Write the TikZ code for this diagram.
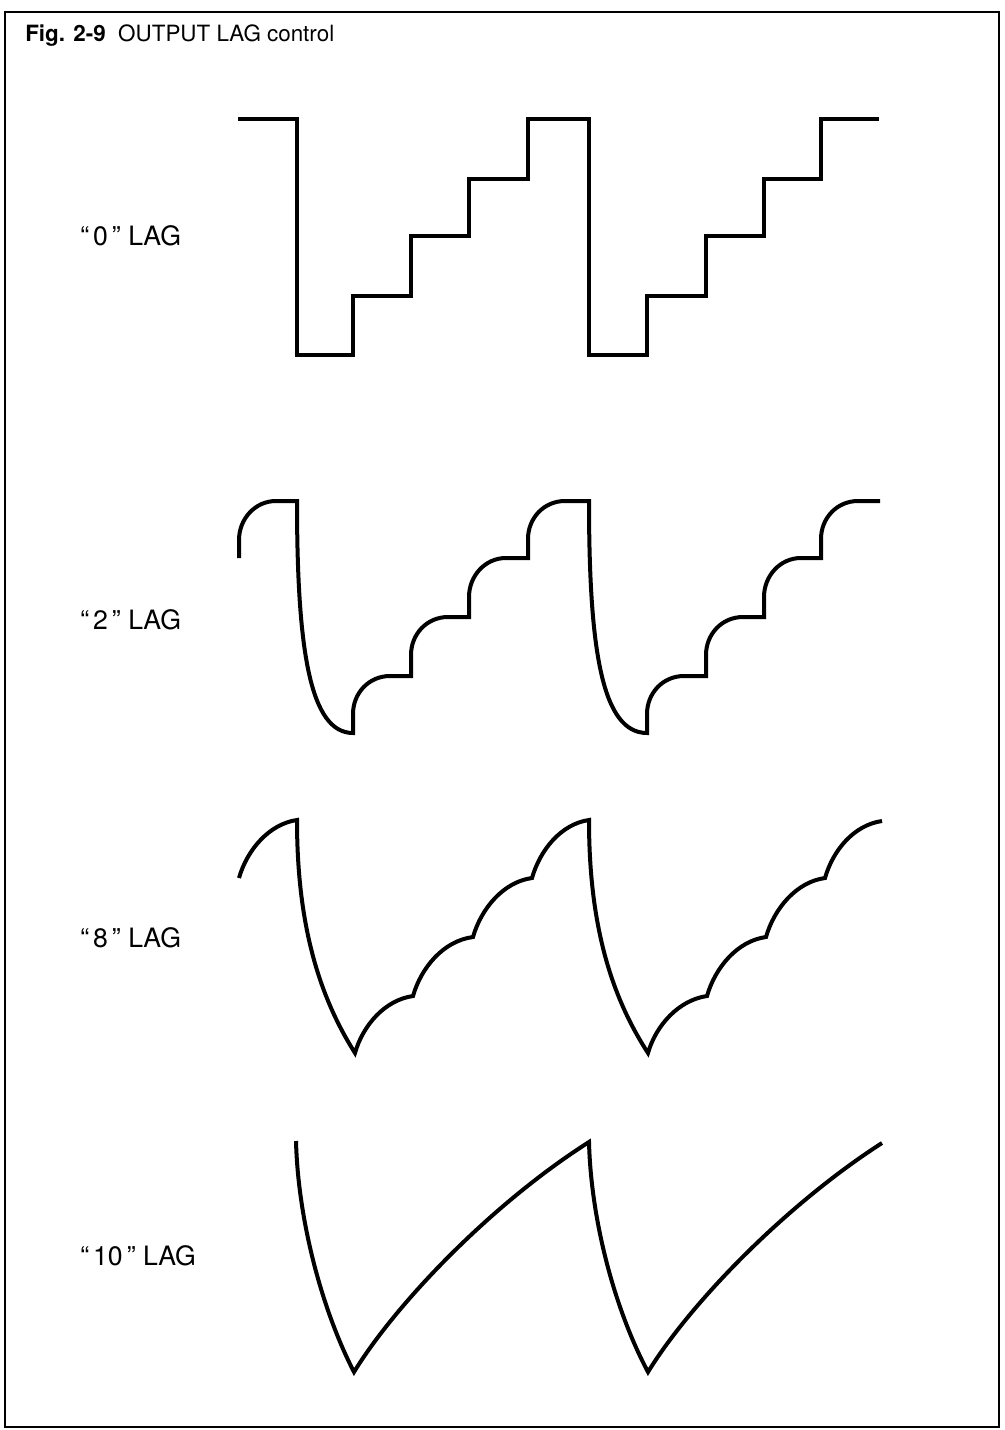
\documentclass[tikz,border=0pt]{standalone}
\usepackage{fontspec}
\setmainfont{TeX Gyre Heros}
\usepackage{tikz}

\begin{document}
\begin{tikzpicture}[x=0.75pt,y=0.75pt,yscale=-1,xscale=1,
  wave/.style={line width=3pt},
  lbl/.style={anchor=base west,inner sep=0pt,font=\fontsize{20}{23}\selectfont}]
\useasboundingbox (0,0) rectangle (1004,1430);

%Shape: Rectangle [id:frame] 
\draw [line width=2pt] (5,12) rectangle (999,1427);

%Straight Lines [id:lag0] 
\draw [wave] (238,119.5) -- (297,119.5) -- (297,355) -- (353,355) -- (353,296) -- (411,296) -- (411,236) -- (469,236) -- (469,179) -- (528,179) -- (528,119.5) -- (589,119.5) -- (589,355) -- (647,355) -- (647,296) -- (706,296) -- (706,236) -- (764,236) -- (764,179) -- (821,179) -- (821,119.5) -- (879,119.5) ;

%Curve Lines [id:lag2] 
\draw [wave] (239,558) -- (239,540) .. controls (239,519) and (255,501) .. (276,501) -- (297,501) .. controls (297,650) and (310,733) .. (353,733) -- (353,714) .. controls (353,693) and (369,676) .. (390,676) -- (411,676) -- (411,655) .. controls (411,634) and (427,617) .. (448,617) -- (469,617) -- (469,597) .. controls (469,576) and (485,558) .. (506,558) -- (528,558) -- (528,539) .. controls (528,518) and (544,501) .. (565,501) -- (589,501) .. controls (589,650) and (602,733) .. (647,733) -- (647,714) .. controls (647,693) and (663,676) .. (684,676) -- (706,676) -- (706,655) .. controls (706,634) and (722,617) .. (743,617) -- (764,617) -- (764,597) .. controls (764,576) and (780,558) .. (801,558) -- (821,558) -- (821,539) .. controls (821,518) and (837,501) .. (858,501) -- (880,501) ;

%Curve Lines [id:lag8] 
\draw [wave] (239,878) .. controls (247,850) and (269,824) .. (297,820) .. controls (297,920) and (317,993) .. (355,1053) .. controls (363,1025) and (385,1000) .. (413,996) .. controls (421,968) and (443,941) .. (473,937) .. controls (481,909) and (503,882) .. (532,878) .. controls (540,850) and (561,824) .. (589,820) .. controls (589,920) and (609,993) .. (648,1053) .. controls (656,1025) and (679,1000) .. (707,996) .. controls (715,968) and (737,941) .. (766,937) .. controls (774,909) and (796,882) .. (825,878) .. controls (833,850) and (854,825) .. (882,821) ;

%Curve Lines [id:lag10] 
\draw [wave] (296,1141) .. controls (298,1220) and (322,1310) .. (354,1372) .. controls (395,1305) and (490,1205) .. (589,1142) .. controls (591,1221) and (615,1310) .. (648,1372) .. controls (689,1305) and (784,1206) .. (882,1143) ;

% Text Node
\draw (25,42) node (title) [anchor=base west][inner sep=0pt] [font=\fontsize{16.8}{20}\selectfont] {\textbf{Fig. 2-9}\ \ OUTPUT LAG control};
% Text Node
\draw (80,245.5) node (lbl0) [lbl] {``\hspace{3pt}0\hspace{3pt}''\ LAG};
% Text Node
\draw (80,629.5) node (lbl2) [lbl] {``\hspace{3pt}2\hspace{3pt}''\ LAG};
% Text Node
\draw (80,947.5) node (lbl8) [lbl] {``\hspace{3pt}8\hspace{3pt}''\ LAG};
% Text Node
\draw (80,1265.5) node (lbl10) [lbl] {``\hspace{3pt}10\hspace{3pt}''\ LAG};

\end{tikzpicture}
\end{document}
